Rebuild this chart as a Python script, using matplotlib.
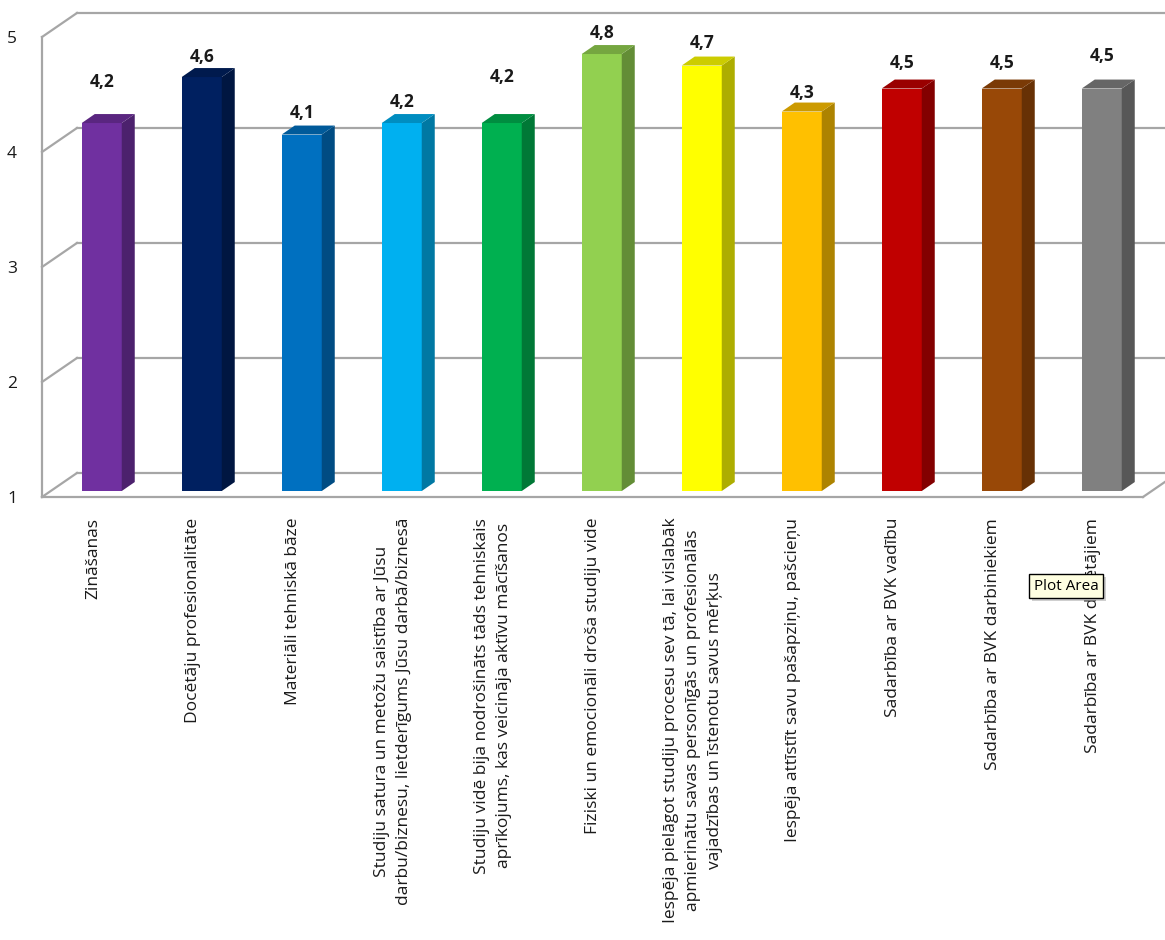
import numpy as np
import matplotlib
matplotlib.use('Agg')
import matplotlib.pyplot as plt
from matplotlib.patches import Polygon, Rectangle
from matplotlib.colors import to_rgb

plt.rcParams['font.family'] = ['Open Sans', 'DejaVu Sans']

# Data
categories = [
    'Zināšanas',
    'Docētāju profesionalitāte',
    'Materiāli tehniskā bāze',
    'Studiju satura un metožu saistība ar Jūsu\ndarbu/biznesu, lietderīgums Jūsu darbā/biznesā',
    'Studiju vidē bija nodrošināts tāds tehniskais\naprīkojums, kas veicināja aktīvu mācīšanos',
    'Fiziski un emocionāli droša studiju vide',
    'Iespēja pielāgot studiju procesu sev tā, lai vislabāk\napmierinātu savas personīgās un profesionālās\nvajadzības un īstenotu savus mērķus',
    'Iespēja attīstīt savu pašapziņu, pašcieņu',
    'Sadarbība ar BVK vadību',
    'Sadarbība ar BVK darbiniekiem',
    'Sadarbība ar BVK docētājiem',
]
scores = [4.2, 4.6, 4.1, 4.2, 4.2, 4.8, 4.7, 4.3, 4.5, 4.5, 4.5]
y_ticks = [1, 2, 3, 4, 5]

# Styles
front_colors = ['#7030A0', '#002060', '#0070C0', '#00B0F0', '#00B050', '#92D050',
                '#FFFF00', '#FFC000', '#C00000', '#984807', '#808080']
label_lift = [41, 20, 22, 21, 46, 21, 23, 19, 26, 26, 33]  # pixels above bar top
grid_color = '#a6a6a6'

# fake 3D geometry (data units)
wall_dx, wall_dy = 0.35, 0.209
bar_dx, bar_dy = 0.0875, 0.052
bar_depth_x, bar_depth_y = 0.13, 0.078
bar_w = 0.40


def shade(c, f):
    r, g, b = to_rgb(c)
    return (r * f, g * f, b * f)


fig = plt.figure(figsize=(11.65, 9.4), dpi=100)
fig.patch.set_facecolor('white')
ax = fig.add_axes([42 / 1165, (940 - 497) / 940, 1101 / 1165, 460 / 940])
ax.set_facecolor('none')

x = np.arange(len(categories))
xmin, xmax = -0.51, 10.5
ax.set_xlim(xmin, xmax)
ax.set_ylim(1, 5)

# back wall gridlines + left side diagonals
for v in y_ticks:
    ax.plot([xmin + wall_dx, 11.5], [v + wall_dy] * 2, color=grid_color, lw=1.6,
            clip_on=False, zorder=1)
    ax.plot([xmin, xmin + wall_dx], [v, v + wall_dy], color=grid_color, lw=1.6,
            clip_on=False, zorder=1)
# floor right edge
ax.plot([xmax, xmax + wall_dx], [1, 1 + wall_dy], color=grid_color, lw=1.6,
        clip_on=False, zorder=1)

for s in ['top', 'right']:
    ax.spines[s].set_visible(False)
for s in ['left', 'bottom']:
    ax.spines[s].set_color(grid_color)
    ax.spines[s].set_linewidth(1.6)

# bars
for i, v in enumerate(scores):
    fc = front_colors[i]
    xl = x[i] + bar_dx - bar_w / 2
    xr = xl + bar_w
    b = 1 + bar_dy
    t = v + bar_dy
    ax.add_patch(Rectangle((xl, b), bar_w, v - 1, facecolor=fc, edgecolor='none',
                           zorder=3, clip_on=False))
    side = [(xr, b), (xr + bar_depth_x, b + bar_depth_y),
            (xr + bar_depth_x, t + bar_depth_y), (xr, t)]
    ax.add_patch(Polygon(side, closed=True, facecolor=shade(fc, 0.68),
                         edgecolor='none', zorder=3, clip_on=False))
    top = [(xl, t), (xl + bar_depth_x, t + bar_depth_y),
           (xr + bar_depth_x, t + bar_depth_y), (xr, t)]
    ax.add_patch(Polygon(top, closed=True, facecolor=shade(fc, 0.8),
                         edgecolor='none', zorder=3, clip_on=False))
    ax.annotate(f'{v:.1f}'.replace('.', ','), (x[i] + bar_dx, t),
                xytext=(0, label_lift[i]), textcoords='offset pixels',
                ha='center', va='center', fontsize=12.5, fontweight='bold',
                color='#1a1a1a', zorder=5, annotation_clip=False)

ax.set_xticks(x)
ax.set_xticklabels(categories, rotation=90, fontsize=12.5, color='#1a1a1a',
                   ha='center', va='top', multialignment='center',
                   linespacing=1.5)
ax.tick_params(axis='x', length=0, pad=15)
ax.set_yticks(y_ticks)
ax.set_yticklabels([str(t) for t in y_ticks], fontsize=12.5, color='#1a1a1a')
ax.tick_params(axis='y', length=0, pad=18)

# tooltip left over in the screenshot (with a soft shadow)
tx, ty = 1066 / 1165, 1 - 586 / 940
fig.text(tx + 3 / 1165, ty - 3 / 940, 'Plot Area', ha='center', va='center',
         fontsize=11, color='none', zorder=9,
         bbox=dict(boxstyle='square,pad=0.3', fc='#b0b0b0', ec='none', alpha=0.6))
fig.text(tx, ty, 'Plot Area', ha='center', va='center',
         fontsize=11, color='black', zorder=10,
         bbox=dict(boxstyle='square,pad=0.3', fc='#ffffe1', ec='black', lw=1))

fig.savefig('out.png', dpi=100, facecolor='white')
